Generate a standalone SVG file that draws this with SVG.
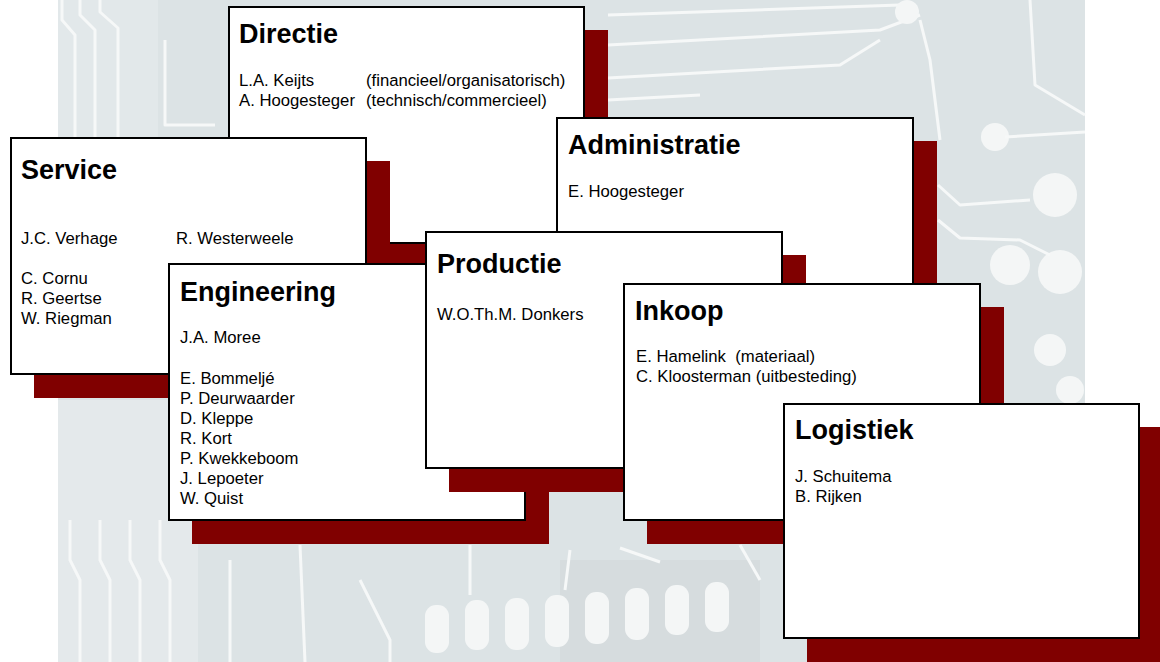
<svg xmlns="http://www.w3.org/2000/svg" width="1160" height="662" viewBox="0 0 1160 662">
  <defs>
    <style>
      .shadow { fill: #800000; }
      .card { fill: #ffffff; stroke: #000000; stroke-width: 2; }
      .title { font-family: "Liberation Sans", Arial, sans-serif; font-size: 27px; font-weight: bold; fill: #000000; }
      .line { font-family: "Liberation Sans", Arial, sans-serif; font-size: 16.7px; fill: #000000; }
      .thin { fill: none; stroke: #f6f8f8; stroke-width: 3; stroke-linejoin: round; }
      .pad { fill: #f4f6f6; }
    </style>
  </defs>

  <rect x="0" y="0" width="1160" height="662" fill="#ffffff"/>

  <g id="background">
    <rect x="58" y="0" width="1027" height="662" fill="#dce3e5"/>
    <rect x="58" y="0" width="100" height="140" fill="#e2e8ea"/>
    <rect x="58" y="400" width="140" height="262" fill="#e4e9eb"/>
    <rect x="560" y="560" width="200" height="102" fill="#d6dcde"/>
    <!-- top-left traces -->
    <path class="thin" d="M62 0 L62 20 L75 35 L75 140"/>
    <path class="thin" d="M80 0 L80 15 L95 30 L95 140"/>
    <path class="thin" d="M100 0 L100 12 L118 28 L118 140"/>
    <path class="thin" d="M165 40 L165 125 L215 125"/>
    <!-- top traces right of Directie -->
    <path class="thin" d="M608 15 L900 5"/>
    <path class="thin" d="M608 45 L880 30 L920 15"/>
    <path class="thin" d="M608 78 L840 65 L880 40"/>
    <path class="thin" d="M608 100 L700 95"/>
    <path class="thin" d="M920 20 L930 60 L940 140"/>
    <path class="thin" d="M1030 0 L1035 85 L1085 115"/>
    <!-- right side pads -->
    <circle class="pad" cx="907" cy="12" r="12"/>
    <circle class="pad" cx="995" cy="137" r="14"/>
    <path class="thin" d="M1005 137 L1085 132"/>
    <circle class="pad" cx="1055" cy="195" r="22"/>
    <circle class="pad" cx="1010" cy="265" r="20"/>
    <circle class="pad" cx="1060" cy="272" r="22"/>
    <path class="thin" d="M938 185 L960 205 L1030 200"/>
    <path class="thin" d="M938 220 L960 238 L1020 240 L1050 255"/>
    <circle class="pad" cx="1050" cy="350" r="16"/>
    <circle class="pad" cx="1070" cy="390" r="14"/>
    <!-- bottom-left leads -->
    <path class="thin" d="M70 520 L70 560 L80 580 L80 662"/>
    <path class="thin" d="M100 520 L100 560 L110 580 L110 662"/>
    <path class="thin" d="M130 520 L130 560 L140 580 L140 662"/>
    <path class="thin" d="M160 520 L160 560 L170 580 L170 662"/>
    <path class="thin" d="M230 560 L230 662"/>
    <path class="thin" d="M300 545 L305 662"/>
    <path class="thin" d="M360 580 L390 640 L390 662"/>
    <!-- bottom pad row -->
    <rect class="pad" x="425" y="605" width="24" height="48" rx="11"/>
    <rect class="pad" x="465" y="600" width="24" height="50" rx="11"/>
    <rect class="pad" x="505" y="598" width="24" height="52" rx="11"/>
    <rect class="pad" x="545" y="595" width="24" height="52" rx="11"/>
    <rect class="pad" x="585" y="592" width="24" height="52" rx="11"/>
    <rect class="pad" x="625" y="588" width="24" height="52" rx="11"/>
    <rect class="pad" x="665" y="585" width="24" height="50" rx="11"/>
    <rect class="pad" x="705" y="582" width="24" height="50" rx="11"/>
    <path class="thin" d="M470 545 L470 595"/>
    <path class="thin" d="M570 550 L565 590"/>
    <path class="thin" d="M620 548 L660 562"/>
    <path class="thin" d="M740 545 L760 580"/>
  </g>

  <g id="connectors"></g>

  <g id="directie">
    <rect class="shadow" x="252" y="30" width="356" height="237"/>
    <rect class="card" x="229" y="7" width="355" height="236"/>
    <text class="title" x="239" y="43">Directie</text>
    <text class="line" x="239" y="86">L.A. Keijts</text>
    <text class="line" x="366" y="86">(financieel/organisatorisch)</text>
    <text class="line" x="239" y="106">A. Hoogesteger</text>
    <text class="line" x="366" y="106">(technisch/commercieel)</text>
  </g>

  <g id="service">
    <rect class="shadow" x="34" y="161" width="356" height="237"/>
    <rect class="card" x="11" y="138" width="355" height="236"/>
    <text class="title" x="21" y="179">Service</text>
    <text class="line" x="21" y="244">J.C. Verhage</text>
    <text class="line" x="176" y="244">R. Westerweele</text>
    <text class="line" x="21" y="284">C. Cornu</text>
    <text class="line" x="21" y="304">R. Geertse</text>
    <text class="line" x="21" y="324">W. Riegman</text>
  </g>

  <g id="administratie">
    <rect class="shadow" x="580" y="141" width="357" height="237"/>
    <rect class="card" x="557" y="118" width="356" height="236"/>
    <text class="title" x="568" y="154">Administratie</text>
    <text class="line" x="568" y="197">E. Hoogesteger</text>
  </g>

  <g id="engineering">
    <rect class="shadow" x="192" y="287" width="357" height="257"/>
    <rect class="card" x="169" y="264" width="356" height="256"/>
    <text class="title" x="180" y="301">Engineering</text>
    <text class="line" x="180" y="343">J.A. Moree</text>
    <text class="line" x="180" y="384">E. Bommeljé</text>
    <text class="line" x="180" y="404">P. Deurwaarder</text>
    <text class="line" x="180" y="424">D. Kleppe</text>
    <text class="line" x="180" y="444">R. Kort</text>
    <text class="line" x="180" y="464">P. Kwekkeboom</text>
    <text class="line" x="180" y="484">J. Lepoeter</text>
    <text class="line" x="180" y="504">W. Quist</text>
  </g>

  <g id="productie">
    <rect class="shadow" x="449" y="255" width="357" height="237"/>
    <rect class="card" x="426" y="232" width="356" height="236"/>
    <text class="title" x="437" y="273">Productie</text>
    <text class="line" x="437" y="320">W.O.Th.M. Donkers</text>
  </g>

  <g id="inkoop">
    <rect class="shadow" x="647" y="307" width="357" height="237"/>
    <rect class="card" x="624" y="284" width="356" height="236"/>
    <text class="title" x="635" y="320">Inkoop</text>
    <text class="line" x="636" y="362" xml:space="preserve">E. Hamelink  (materiaal)</text>
    <text class="line" x="636" y="382">C. Kloosterman (uitbesteding)</text>
  </g>

  <g id="logistiek">
    <rect class="shadow" x="807" y="427" width="356" height="240"/>
    <rect class="card" x="784" y="404" width="355" height="234"/>
    <text class="title" x="795" y="439">Logistiek</text>
    <text class="line" x="795" y="482">J. Schuitema</text>
    <text class="line" x="795" y="502">B. Rijken</text>
  </g>
</svg>
